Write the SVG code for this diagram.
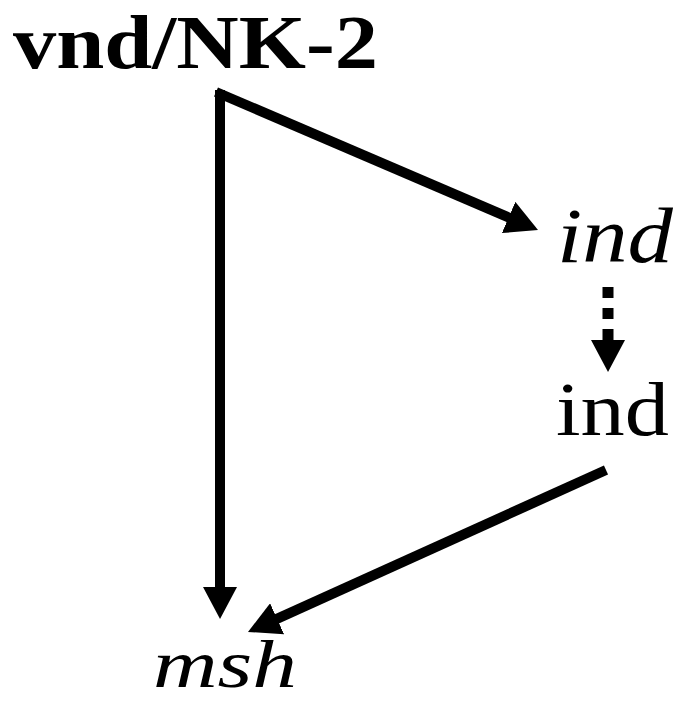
<svg xmlns="http://www.w3.org/2000/svg" width="678" height="702" viewBox="0 0 678 702">
  <defs>
    <marker id="arrow" markerUnits="userSpaceOnUse" viewBox="0 0 32 34" refX="10" refY="17" markerWidth="32" markerHeight="34" orient="auto">
      <path d="M0,0 L32,17 L0,34 Z" fill="#000"/>
    </marker>
    <style>
      .lbl { fill: #000; font-family: "Liberation Serif", Tinos, "Times New Roman", serif; }
      .bold { font-weight: bold; }
      .it { font-style: italic; }
      .conn { fill: none; stroke: #000; stroke-width: 10; marker-end: url(#arrow); }
      .dotted { stroke-width: 11; stroke-dasharray: 11 10; }
    </style>
  </defs>
  <rect width="678" height="702" fill="#fff"/>
  <g id="connectors">
    <path class="conn" d="M220,90 L220,597"/>
    <path class="conn" d="M216,92 L517.8,221.4"/>
    <path class="conn dotted" d="M608,287 L608,350"/>
    <path class="conn" d="M606,470 L268,622.9"/>
  </g>
  <g id="vnd-NK2">
    <text class="lbl bold" x="13" y="68" font-size="76" textLength="365" lengthAdjust="spacingAndGlyphs">vnd/NK-2</text>
  </g>
  <g id="ind-italic">
    <text class="lbl it" x="557" y="262" font-size="78" textLength="116" lengthAdjust="spacingAndGlyphs">ind</text>
  </g>
  <g id="ind-upright">
    <text class="lbl" x="556" y="435" font-size="76" textLength="113" lengthAdjust="spacingAndGlyphs">ind</text>
  </g>
  <g id="msh">
    <text class="lbl it" x="153" y="687" font-size="68" textLength="144" lengthAdjust="spacingAndGlyphs">msh</text>
  </g>
</svg>
